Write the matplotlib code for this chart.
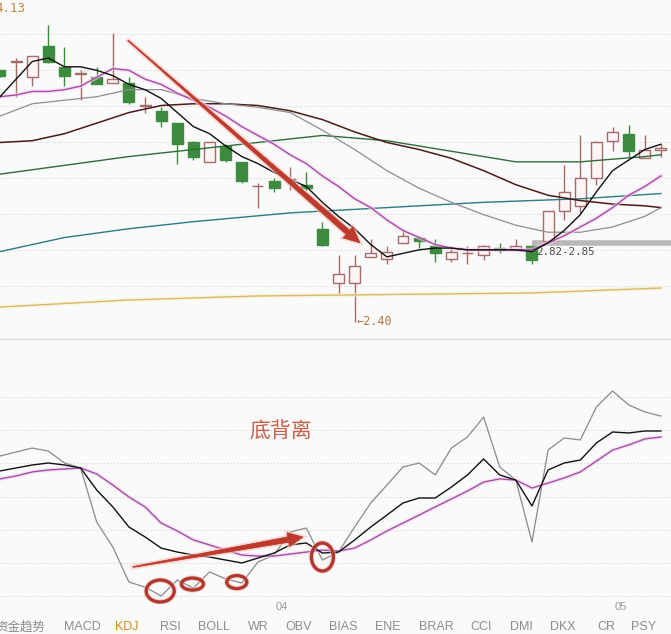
import numpy as np
import matplotlib.pyplot as plt
import matplotlib.patheffects as pe
from matplotlib.patches import Rectangle, Ellipse, Polygon
from matplotlib.lines import Line2D
from matplotlib.transforms import IdentityTransform, blended_transform_factory

# ---------------- data ----------------
opens = [3.83, 3.88, 3.79, 3.97, 3.85, 3.81, 3.79, 3.76, 3.76, 3.63,
         3.60, 3.53, 3.42, 3.31, 3.40, 3.31, 3.17, 3.20, 3.21, 3.18,
         2.93, 2.62, 2.62, 2.77, 2.76, 2.85, 2.88, 2.83, 2.76, 2.79,
         2.78, 2.82, 2.81, 2.83, 2.86, 3.03, 3.06, 3.22, 3.43, 3.47,
         3.33, 3.38]
highs = [3.83, 3.90, 3.91, 4.09, 3.96, 3.83, 3.85, 4.04, 3.79, 3.68,
         3.62, 3.53, 3.43, 3.42, 3.41, 3.31, 3.19, 3.22, 3.28, 3.25,
         2.97, 2.78, 2.78, 2.87, 2.83, 2.93, 2.89, 2.87, 2.83, 2.83,
         2.84, 2.85, 2.87, 2.83, 3.03, 3.29, 3.46, 3.43, 3.51, 3.52,
         3.46, 3.41]
lows = [3.79, 3.68, 3.74, 3.87, 3.74, 3.66, 3.75, 3.76, 3.64, 3.59,
        3.51, 3.30, 3.32, 3.31, 3.31, 3.19, 3.05, 3.14, 3.15, 3.15,
        2.83, 2.56, 2.40, 2.77, 2.73, 2.85, 2.82, 2.74, 2.74, 2.73,
        2.75, 2.79, 2.81, 2.73, 2.86, 2.98, 3.02, 3.18, 3.37, 3.34,
        3.33, 3.34]
closes = [3.80, 3.88, 3.91, 3.88, 3.80, 3.81, 3.75, 3.78, 3.65, 3.63,
          3.54, 3.41, 3.34, 3.42, 3.32, 3.20, 3.17, 3.16, 3.21, 3.16,
          2.84, 2.67, 2.72, 2.79, 2.80, 2.89, 2.86, 2.79, 2.80, 2.79,
          2.83, 2.81, 2.83, 2.75, 3.03, 3.14, 3.22, 3.42, 3.48, 3.37,
          3.38, 3.39]

ma5 = [3.68, 3.78, 3.88, 3.90, 3.85, 3.85, 3.83, 3.80, 3.75, 3.72,
       3.67, 3.59, 3.51, 3.47, 3.40, 3.34, 3.30, 3.25, 3.21, 3.17,
       3.08, 3.00, 2.93, 2.84, 2.77, 2.79, 2.81, 2.82, 2.82, 2.81,
       2.81, 2.81, 2.81, 2.80, 2.85, 2.92, 3.01, 3.14, 3.26, 3.32,
       3.38, 3.41]
ma10 = [3.68, 3.69, 3.71, 3.71, 3.72, 3.74, 3.79, 3.84, 3.83, 3.78,
        3.75, 3.70, 3.66, 3.62, 3.57, 3.51, 3.46, 3.41, 3.35, 3.30,
        3.23, 3.17, 3.10, 3.05, 2.98, 2.92, 2.88, 2.84, 2.82, 2.81,
        2.81, 2.81, 2.81, 2.81, 2.85, 2.89, 2.94, 2.99, 3.05, 3.12,
        3.17, 3.23]
ma20_30_idx = [0, 2, 4, 6, 8, 10, 12, 14, 16, 18, 20,
               22, 24, 26, 28, 30, 32, 34, 36, 38, 40, 41]
ma20 = [3.57, 3.64, 3.66, 3.68, 3.72, 3.72, 3.67, 3.64, 3.62, 3.59, 3.49,
        3.38, 3.26, 3.16, 3.08, 3.01, 2.95, 2.91, 2.91, 2.94, 3.00, 3.05]
ma30 = [3.42, 3.43, 3.47, 3.53, 3.59, 3.63, 3.64, 3.64, 3.63, 3.60, 3.55,
        3.48, 3.42, 3.38, 3.33, 3.26, 3.18, 3.12, 3.09, 3.07, 3.06, 3.05]
ma60_idx = [0, 4, 8, 12, 16, 20, 24, 28, 32, 36, 40, 41]
ma60 = [3.24, 3.29, 3.34, 3.38, 3.42, 3.46, 3.43, 3.37, 3.31, 3.31, 3.34, 3.35]
ma120_idx = [0, 4, 8, 12, 18, 24, 30, 36, 41]
ma120 = [2.80, 2.88, 2.93, 2.97, 3.02, 3.05, 3.08, 3.10, 3.13]
ma250_idx = [0, 8, 16, 21, 33, 41]
ma250 = [2.485, 2.525, 2.548, 2.553, 2.565, 2.593]

k_line = [75.4, 77.2, 79.0, 80.2, 79.0, 77.2, 63.9, 53.7, 41.6, 35.6,
          28.9, 26.5, 24.7, 23.5, 21.7, 19.9, 22.9, 25.9, 30.8, 32.0,
          25.9, 26.5, 33.8, 41.6, 48.8, 56.1, 59.1, 59.1, 65.7, 73.0,
          82.6, 73.0, 69.9, 54.3, 76.0, 80.2, 82.0, 92.3, 98.9, 98.3,
          99.5, 99.5]
d_line = [70.6, 72.4, 74.8, 76.0, 76.6, 77.2, 73.6, 66.9, 59.7, 53.7,
          44.0, 39.2, 33.8, 30.8, 27.7, 24.7, 24.1, 24.1, 25.3, 26.5,
          27.7, 27.1, 28.9, 33.8, 39.2, 44.0, 48.8, 53.7, 58.5, 63.3,
          68.7, 70.6, 69.9, 65.1, 68.1, 71.2, 74.8, 81.4, 88.0, 91.1,
          94.7, 95.9]
j_line = [84.4, 86.8, 89.2, 87.4, 80.2, 77.2, 44.6, 29.5, 8.4, 5.4,
          0.0, 9.6, 4.8, 14.5, 10.3, 7.8, 20.5, 24.7, 38.6, 41.0,
          21.7, 26.5, 41.6, 56.1, 66.9, 77.8, 80.2, 73.0, 89.2, 95.9,
          107.9, 77.8, 69.9, 32.6, 88.0, 95.3, 94.1, 114.0, 123.6, 115.2,
          111.0, 108.5]

top_price_label = '4.13'
zone_lo, zone_hi = 2.82, 2.85
zone_start = 33
trough_idx = [10, 12, 15, 20]
month_idx = [17, 38]
month_labels = ['04', '05']
tabs = ['资金趋势', 'MACD', 'KDJ', 'RSI', 'BOLL', 'WR', 'OBV', 'BIAS',
        'ENE', 'BRAR', 'CCI', 'DMI', 'DKX', 'CR', 'PSY']
active_tab = 'KDJ'

# ---------------- layout ----------------
W, H = 671, 634
BG = '#fafafa'
XMAX = W / 16.12          # candle pitch in pixels
UP_EDGE, UP_FACE = '#a56b6b', '#fdf4f4'
DOWN = '#3d8b3d'
RED = '#bd3a2c'

fig = plt.figure(figsize=(W / 100, H / 100), dpi=100, facecolor=BG)
ax = fig.add_axes([0, 295 / H, 1, 339 / H])
ax2 = fig.add_axes([0, 30 / H, 1, 265 / H])
for a in (ax, ax2):
    a.set_facecolor(BG)
    a.set_xlim(0, XMAX)
    a.set_xticks([])
    a.set_yticks([])
    for s in a.spines.values():
        s.set_visible(False)
ax.set_ylim(2.3034, 4.2295)
ax2.set_ylim(-4.82, 154.97)

grid_kw = dict(color='#d4d4d4', lw=0.8, ls=(0, (1, 2)), zorder=0)
for lv in 2.605 + 0.2045 * np.arange(8):
    ax.axhline(lv, **grid_kw)
for lv in np.arange(0, 121, 20):
    ax2.axhline(lv, **grid_kw)
fig.add_artist(Line2D([0, 1], [295 / H, 295 / H], transform=fig.transFigure,
                      color='#dedede', lw=1))

# ---------------- candles ----------------
bw = 0.68
for i, (o, h, l, c) in enumerate(zip(opens, highs, lows, closes)):
    up = c >= o
    col = UP_EDGE if up else DOWN
    top, bot = max(o, c), min(o, c)
    ax.vlines(i, top, h, color=col, lw=1, zorder=3)
    ax.vlines(i, l, bot, color=col, lw=1, zorder=3)
    ax.add_patch(Rectangle((i - bw / 2, bot), bw, max(top - bot, 0.004),
                           facecolor=UP_FACE if up else DOWN, edgecolor=col,
                           lw=1, zorder=3))

# ---------------- moving averages ----------------
idx = np.arange(len(closes))
glow = lambda c, w: [pe.Stroke(linewidth=w, foreground=c, alpha=0.6), pe.Normal()]
ax.plot(ma250_idx, ma250, color='#d9b86c', lw=1, zorder=4,
        path_effects=glow('#fbf0cc', 3))
ax.plot(ma120_idx, ma120, color='#2d7a88', lw=1, zorder=4)
ax.plot(ma60_idx, ma60, color='#2f6d35', lw=1, zorder=4)
ax.plot(ma20_30_idx, ma30, color='#4a1a1a', lw=1.1, zorder=4)
ax.plot(ma20_30_idx, ma20, color='#8e8e8e', lw=0.9, zorder=4)
ax.plot(idx, ma10, color='#a54ca5', lw=1, zorder=4,
        path_effects=glow('#f6d3f1', 3))
ax.plot(idx, ma5, color='#111111', lw=1, zorder=4)

# support zone bar and labels
ax.hlines(zone_hi, zone_start, XMAX, color='#b9b9b9', lw=4, zorder=2)
ax.annotate(f'{zone_lo:.2f}-{zone_hi:.2f}', xy=(zone_start, zone_hi),
            xytext=(4, -9), textcoords='offset pixels', ha='left', va='center',
            fontsize=7.8, color='#4a4a4a', family='DejaVu Sans Mono', zorder=2)
low_i = int(np.argmin(lows))
ax.annotate(f'←{lows[low_i]:.2f}', xy=(low_i, lows[low_i]), xytext=(2, 0),
            textcoords='offset pixels', ha='left', va='center',
            fontsize=8.5, color='#b27a42', family='DejaVu Sans Mono')
ax.text(25 / W, 1 - 8 / 339, top_price_label, transform=ax.transAxes,
        ha='right', va='center', fontsize=9, color='#c08538',
        family='DejaVu Sans Mono')


def taper_arrow(a, p0, p1, w0, w1, head_w, head_l):
    s = a.transData.transform(p0)
    e = a.transData.transform(p1)
    u = (e - s) / np.hypot(*(e - s))
    n = np.array([-u[1], u[0]])
    b = e - u * head_l
    pts = [s + n * w0 / 2, b + n * w1 / 2, b + n * head_w / 2, e,
           b - n * head_w / 2, b - n * w1 / 2, s - n * w0 / 2]
    a.add_patch(Polygon(pts, closed=True, transform=IdentityTransform(),
                        facecolor=RED, edgecolor=RED, lw=0.5, zorder=6,
                        path_effects=glow('#f6c4bd', 3)))


taper_arrow(ax, (7.94, 4.00), (22.33, 2.85), 0.8, 5.5, 15, 16)

# ---------------- KDJ panel ----------------
ax2.plot(idx, j_line, color='#8a8a8a', lw=0.9, zorder=3)
ax2.plot(idx, d_line, color='#a050a5', lw=1, zorder=3,
         path_effects=glow('#f6d3f1', 3))
ax2.plot(idx, k_line, color='#111111', lw=1, zorder=4)

ax2.text(17.43, 98.9, '底背离', fontsize=15, color='#c4604c',
         family=['Noto Sans CJK SC'], ha='center', va='center')
taper_arrow(ax2, (8.25, 17.5), (18.8, 35.6), 0.8, 5.5, 14, 15)

circle_size = [(28, 22), (22, 12), (20, 13), (22, 28)]
circle_shift = [(-1, 5), (-1, 4), (-5, 1), (0, 3)]
for t, (w, h), (dx, dy) in zip(trough_idx, circle_size, circle_shift):
    cx, cy = ax2.transData.transform((t, j_line[t]))
    ax2.add_patch(Ellipse((cx + dx, cy + dy), w, h, transform=IdentityTransform(),
                          fill=False, edgecolor='#b0382e', lw=2.4, zorder=7,
                          path_effects=glow('#f3c3bd', 4)))

month_tr = blended_transform_factory(ax2.transData, fig.transFigure)
for m, lab in zip(month_idx, month_labels):
    ax2.text(m + 0.1, (H - 607) / H, lab, transform=month_tr, ha='left',
             va='center', fontsize=8, color='#999999',
             family=['Liberation Sans', 'DejaVu Sans'], clip_on=False)

# ---------------- indicator tabs ----------------
tab_x = [45, 82, 127, 170, 214, 258, 299, 343, 388, 436, 481, 521, 563, 606, 644]
for name, x in zip(tabs, tab_x):
    if name == tabs[0]:
        fig.text(x / W, (H - 627) / H, name, ha='right', va='center',
                 fontsize=9, color='#8c8c8c', family=['Noto Sans CJK SC'])
    else:
        fig.text(x / W, (H - 627) / H, name, ha='center', va='center',
                 fontsize=9,
                 color='#d28a1e' if name == active_tab else '#8c8c8c',
                 family=['Liberation Sans', 'DejaVu Sans'])

fig.savefig('out.png', dpi=100, facecolor=BG)
